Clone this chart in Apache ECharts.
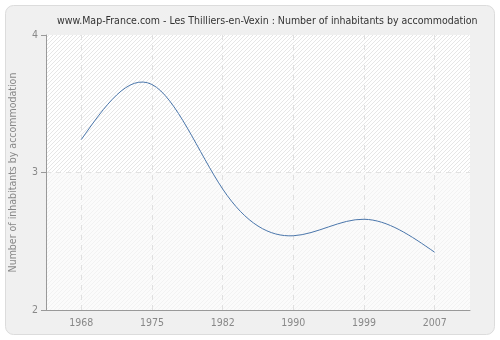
<!DOCTYPE html>
<html><head><meta charset="utf-8">
<script src="https://cdn.jsdelivr.net/npm/echarts@6/dist/echarts.min.js"></script>
<style>html,body{margin:0;padding:0;background:#fff}#c{width:500px;height:340px}</style>
</head><body><div id="c"></div>
<script>
var titleText = 'www.Map-France.com - Les Thilliers-en-Vexin : Number of inhabitants by accommodation';
var yAxisName = 'Number of inhabitants by accommodation';
var years = ['1968', '1975', '1982', '1990', '1999', '2007'];
var values = [3.24, 3.64, 2.88, 2.54, 2.66, 2.42];
var yTicks = [2, 3, 4];

function hatch(color, bg) {
  var n = 4;
  var c = document.createElement('canvas');
  c.width = n; c.height = n;
  var g = c.getContext('2d');
  g.fillStyle = bg; g.fillRect(0, 0, n, n);
  g.strokeStyle = color; g.lineWidth = 1;
  g.beginPath();
  g.moveTo(-1, n + 1); g.lineTo(n + 1, -1);
  g.moveTo(-1, 1); g.lineTo(1, -1);
  g.moveTo(n - 1, n + 1); g.lineTo(n + 1, n - 1);
  g.stroke();
  return { image: c, repeat: 'repeat' };
}

// natural cubic spline through the pixel positions given by the axes
function splineSegments(pts) {
  var n = pts.length - 1, i;
  var h = [], M = new Array(n + 1).fill(0);
  for (i = 0; i < n; i++) h.push(pts[i + 1][0] - pts[i][0]);
  if (n >= 2) {
    var a = [], b = [], c = [], d = [];
    for (i = 1; i < n; i++) {
      a.push(h[i - 1]); b.push(2 * (h[i - 1] + h[i])); c.push(h[i]);
      d.push(6 * ((pts[i + 1][1] - pts[i][1]) / h[i] - (pts[i][1] - pts[i - 1][1]) / h[i - 1]));
    }
    var m = b.length;
    for (i = 1; i < m; i++) {
      var w = a[i] / b[i - 1];
      b[i] -= w * c[i - 1]; d[i] -= w * d[i - 1];
    }
    var sol = new Array(m);
    sol[m - 1] = d[m - 1] / b[m - 1];
    for (i = m - 2; i >= 0; i--) sol[i] = (d[i] - c[i] * sol[i + 1]) / b[i];
    for (i = 0; i < m; i++) M[i + 1] = sol[i];
  }
  var segs = [];
  for (i = 0; i < n; i++) {
    var x0 = pts[i][0], y0 = pts[i][1], x1 = pts[i + 1][0], y1 = pts[i + 1][1], hh = h[i];
    var s0 = (y1 - y0) / hh - hh * (2 * M[i] + M[i + 1]) / 6;
    var s1 = (y1 - y0) / hh + hh * (M[i] + 2 * M[i + 1]) / 6;
    segs.push([x0, y0, x0 + hh / 3, y0 + s0 * hh / 3, x1 - hh / 3, y1 - s1 * hh / 3, x1, y1]);
  }
  return segs;
}

var chart = echarts.init(document.getElementById('c'), null, { renderer: 'canvas' });
chart.setOption({
  animation: false,
  backgroundColor: '#fff',
  graphic: [{
    type: 'rect', z: -10,
    shape: { x: 5.5, y: 5.5, width: 489, height: 329, r: 8 },
    style: { fill: '#f0f0f0', stroke: '#dcdcdc', lineWidth: 1 }
  }],
  title: {
    text: titleText, left: 52, top: 11,
    textStyle: { fontFamily: 'DejaVu Sans Condensed', fontSize: 10.5, fontWeight: 'normal', color: '#333' }
  },
  grid: { left: 40, right: 30, top: 35, bottom: 30, show: true, backgroundColor: '#fdfdfd', borderWidth: 0 },
  xAxis: {
    type: 'category', data: years, boundaryGap: true,
    axisLine: { lineStyle: { color: '#999' } },
    axisTick: { alignWithLabel: true, length: 5, lineStyle: { color: '#999' } },
    axisLabel: { color: '#888', fontFamily: 'DejaVu Sans Condensed', fontSize: 10.5, margin: 8 },
    splitLine: { show: false }
  },
  yAxis: {
    type: 'value', min: yTicks[0], max: yTicks[yTicks.length - 1], interval: 1,
    name: yAxisName, nameLocation: 'middle', nameGap: 27,
    nameTextStyle: { color: '#888', fontFamily: 'DejaVu Sans Condensed', fontSize: 10.5 },
    axisLine: { show: true, lineStyle: { color: '#999' } },
    axisTick: { show: true, length: 5, lineStyle: { color: '#999' } },
    axisLabel: { color: '#888', fontFamily: 'DejaVu Sans Condensed', fontSize: 10.5, margin: 8 },
    splitLine: { show: true, showMinLine: false, showMaxLine: false, lineStyle: { color: '#e2e2e2', type: [5, 5] } },
    splitArea: { show: true, areaStyle: { color: [hatch('#f2f2f2', '#fbfbfb'), hatch('#e6e6e6', '#ffffff')] } }
  },
  series: [{
    type: 'custom', z: 3,
    data: values.map(function (v, i) { return [i, v]; }),
    encode: { x: 0, y: 1 },
    renderItem: function (params, api) {
      var i = params.dataIndex;
      if (i >= values.length - 1) return null;
      var pts = values.map(function (v, k) { return api.coord([k, v]); });
      var s = splineSegments(pts)[i];
      return {
        type: 'bezierCurve',
        shape: { x1: s[0], y1: s[1], cpx1: s[2], cpy1: s[3], cpx2: s[4], cpy2: s[5], x2: s[6], y2: s[7] },
        style: { stroke: '#4a76ab', lineWidth: 1, fill: null }
      };
    },
    markLine: {
      silent: true, symbol: 'none', label: { show: false }, z: 1,
      lineStyle: { color: '#e0e0e0', type: [5, 5], width: 1 },
      data: years.map(function (y) { return { xAxis: y }; })
    }
  }]
});
</script></body></html>
